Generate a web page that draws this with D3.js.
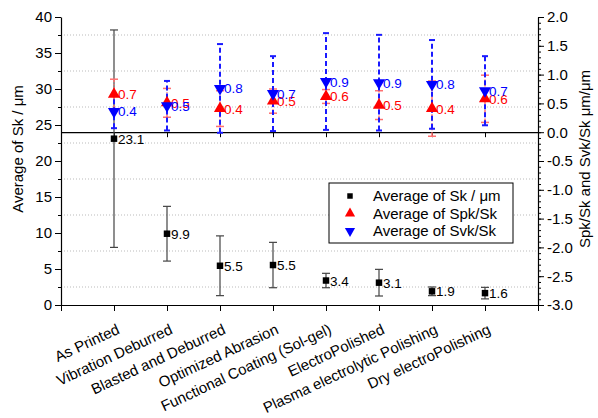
<!DOCTYPE html>
<html>
<head>
<meta charset="utf-8">
<script src="https://cdn.jsdelivr.net/npm/d3@7"></script>
<style>
body { margin: 0; background: #fff; }
text { font-family: "Liberation Sans", Arial, sans-serif; }
</style>
</head>
<body>
<script>
var categories = ["As Printed", "Vibration Deburred", "Blasted and Deburred", "Optimized Abrasion",
    "Functional Coating (Sol-gel)", "ElectroPolished", "Plasma electrolytic Polishing", "Dry electroPolishing"];
var sk = [23.1, 9.9, 5.45, 5.55, 3.4, 3.1, 1.9, 1.65];
var skErr = [15.1, 3.8, 4.15, 3.15, 1.0, 1.85, 0.6, 0.8];
var spk = [0.66, 0.51, 0.41, 0.54, 0.62, 0.47, 0.41, 0.58];
var spkErr = [0.26, 0.25, 0.31, 0.21, 0.12, 0.25, 0.48, 0.41];
var svk = [0.36, 0.46, 0.76, 0.67, 0.88, 0.86, 0.83, 0.72];
var svkErr = [0.29, 0.43, 0.77, 0.65, 0.84, 0.83, 0.77, 0.6];
var leftTicks = [0, 5, 10, 15, 20, 25, 30, 35, 40];
var leftMinor = [2.5, 7.5, 12.5, 17.5, 22.5, 27.5, 32.5, 37.5];
var rightTicks = [-3, -2.5, -2, -1.5, -1, -0.5, 0, 0.5, 1, 1.5, 2];
var legendLabels = ["Average of Sk / \u03bcm", "Average of Spk/Sk", "Average of Svk/Sk"];

var width = 598, height = 418;
var pLeft = 61, pRight = 538, pTop = 17, pBottom = 305;

var svg = d3.select("body").append("svg")
    .attr("width", width).attr("height", height);

var x = d3.scaleLinear().domain([0, 9]).range([pLeft, pRight]);
var yL = d3.scaleLinear().domain([0, 40]).range([pBottom, pTop]);
var yR = d3.scaleLinear().domain([-3, 2]).range([pBottom, pTop]);

// dotted grid at the minor positions
svg.selectAll(".grid")
    .data(leftMinor)
    .enter().append("line")
    .attr("x1", pLeft).attr("x2", pRight)
    .attr("y1", function(d) { return yL(d); })
    .attr("y2", function(d) { return yL(d); })
    .style("stroke", "#bbb")
    .style("stroke-width", 1)
    .style("stroke-dasharray", "1,2");

function styleAxis(g, size) {
    g.selectAll("path").style("stroke", "#000").style("stroke-width", 1.2);
    g.selectAll("line").style("stroke", "#000").style("stroke-width", 1);
    g.selectAll("text").style("font-size", size + "px").style("fill", "#000")
        .style("font-family", "'Liberation Sans', Arial, sans-serif");
}

// left axis
var gl = svg.append("g").attr("transform", "translate(" + pLeft + ",0)")
    .call(d3.axisLeft(yL).tickValues(leftTicks).tickSize(6).tickSizeOuter(0).tickPadding(3));
styleAxis(gl, 15);
svg.append("g").attr("transform", "translate(" + pLeft + ",0)")
    .call(d3.axisLeft(yL).tickValues(leftMinor).tickSize(3).tickFormat(""))
    .call(function(g) { g.select("path").remove(); styleAxis(g, 15); });

// right axis
var gr = svg.append("g").attr("transform", "translate(" + pRight + ",0)")
    .call(d3.axisRight(yR).tickValues(rightTicks).tickSize(6).tickSizeOuter(0).tickPadding(3)
        .tickFormat(function(d) { return d.toFixed(1); }));
styleAxis(gr, 15);
svg.append("g").attr("transform", "translate(" + pRight + ",0)")
    .call(d3.axisRight(yR).ticks(50).tickSize(3).tickFormat(""))
    .call(function(g) { g.select("path").remove(); styleAxis(g, 15); });

// bottom axis
var gb = svg.append("g").attr("transform", "translate(0," + pBottom + ")")
    .call(d3.axisBottom(x).tickValues(d3.range(0, 10)).tickSize(6).tickSizeOuter(0)
        .tickFormat(function(d) { return categories[d - 1] || ""; }));
styleAxis(gb, 15);
gb.selectAll("text")
    .attr("text-anchor", "end")
    .attr("dy", null)
    .attr("y", 0)
    .attr("transform", "translate(6,28) rotate(-25)");

// zero line of the right axis
var gz = svg.append("g").attr("transform", "translate(0," + yR(0) + ")")
    .call(d3.axisBottom(x).tickValues(d3.range(1, 9)).tickSize(5).tickSizeOuter(0).tickFormat(""));
styleAxis(gz, 12);

// axis titles
svg.append("text")
    .attr("transform", "translate(23," + ((pTop + pBottom) / 2 - 12) + ") rotate(-90)")
    .attr("text-anchor", "middle")
    .style("font-size", "15px")
    .text("Average of Sk / \u03bcm");
svg.append("text")
    .attr("transform", "translate(590," + ((pTop + pBottom) / 2 - 2) + ") rotate(-90)")
    .attr("text-anchor", "middle")
    .style("font-size", "15px")
    .text("Spk/Sk and Svk/Sk \u03bcm/\u03bcm");

function errorBars(vals, errs, y, color, dash, cap, w) {
    var g = svg.append("g");
    vals.forEach(function(v, i) {
        var cx = x(i + 1);
        g.append("line")
            .attr("x1", cx).attr("x2", cx)
            .attr("y1", y(v - errs[i])).attr("y2", y(v + errs[i]))
            .style("stroke", color).style("stroke-width", w)
            .style("stroke-dasharray", dash);
        [v - errs[i], v + errs[i]].forEach(function(e) {
            g.append("line")
                .attr("x1", cx - cap).attr("x2", cx + cap)
                .attr("y1", y(e)).attr("y2", y(e))
                .style("stroke", color).style("stroke-width", w);
        });
    });
}

function markers(vals, y, type, size, rot, color, dyLabel) {
    var g = svg.append("g");
    var sym = d3.symbol().type(type).size(size);
    g.selectAll("path")
        .data(vals)
        .enter().append("path")
        .attr("d", sym)
        .attr("transform", function(d, i) {
            return "translate(" + x(i + 1) + "," + y(d) + ") rotate(" + rot + ")";
        })
        .style("fill", color);
    g.selectAll("text")
        .data(vals)
        .enter().append("text")
        .attr("x", function(d, i) { return x(i + 1) + 4; })
        .attr("y", function(d) { return y(d) + dyLabel; })
        .style("font-size", "13.5px")
        .style("fill", color)
        .text(function(d) { return d.toFixed(1); });
}

errorBars(sk, skErr, yL, "#444", null, 4, 1.2);
errorBars(spk, spkErr, yR, "#ff7070", "4,2,1,2", 4, 1.5);
errorBars(svk, svkErr, yR, "#1a1aff", "5,3", 3, 2);

markers(sk, yL, d3.symbolSquare, 42, 0, "#000", 5);
markers(spk, yR, d3.symbolTriangle, 64, 0, "#ff0000", 5);
markers(svk, yR, d3.symbolTriangle, 64, 180, "#0000ff", 5);

// legend
var lg = svg.append("g").attr("transform", "translate(329,183)");
lg.append("rect").attr("width", 184).attr("height", 60)
    .style("fill", "#fff").style("stroke", "#000").style("stroke-width", 1);
var legendSyms = [
    {type: d3.symbolSquare, size: 30, color: "#000", rot: 0},
    {type: d3.symbolTriangle, size: 45, color: "#ff0000", rot: 0},
    {type: d3.symbolTriangle, size: 45, color: "#0000ff", rot: 180}
];
legendLabels.forEach(function(t, i) {
    var yy = 13 + i * 17.5;
    lg.append("path")
        .attr("d", d3.symbol().type(legendSyms[i].type).size(legendSyms[i].size))
        .attr("transform", "translate(21," + yy + ") rotate(" + legendSyms[i].rot + ")")
        .style("fill", legendSyms[i].color);
    lg.append("text").attr("x", 44).attr("y", yy + 5)
        .style("font-size", "15px").text(t);
});
</script>
</body>
</html>
